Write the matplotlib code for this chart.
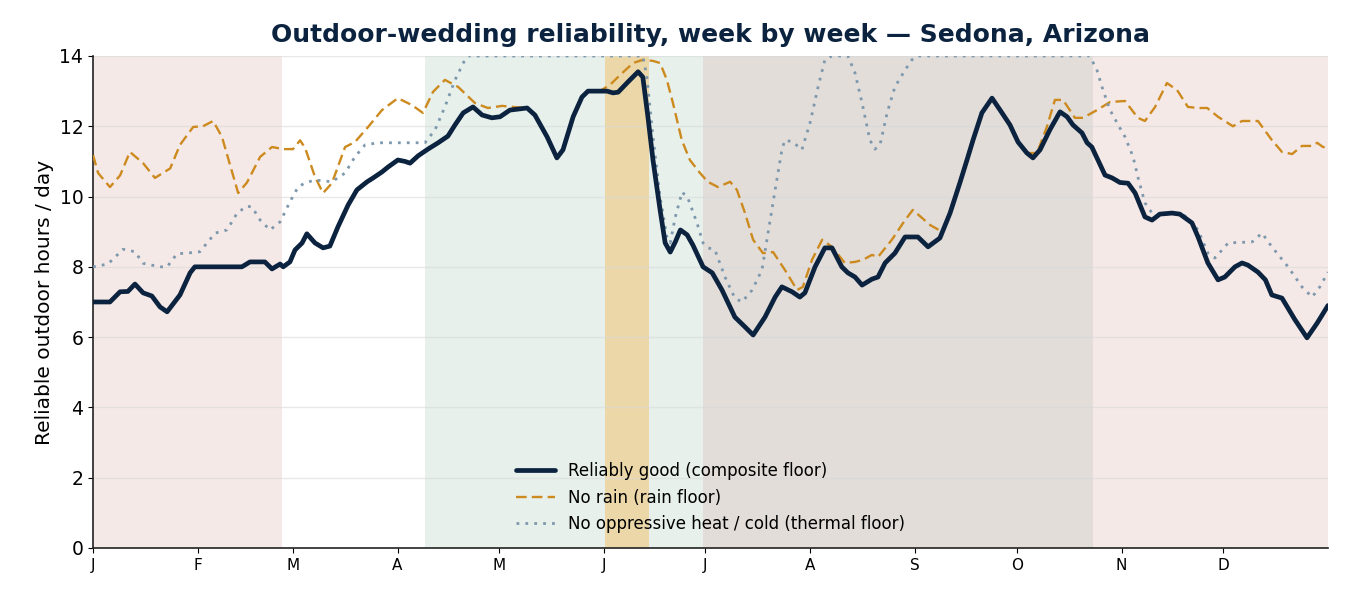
import matplotlib
matplotlib.use("Agg")
import matplotlib.pyplot as plt

# ---------------- data (day of year, hours/day) ----------------
comp_day = [0, 5.0, 8.0, 10.3, 12.4, 14.8, 17.4, 19.8, 21.9, 25.7, 28.7, 30.1, 44.0, 46.4, 50.8, 52.9,
            55.3, 56.2, 58.2, 59.7, 61.8, 63.2, 65.6, 68.0, 70.0, 72.4, 75.4, 78.0, 81.0, 82.8, 85.4,
            87.2, 90.1, 92.2, 93.7, 96.1, 99.0, 102.0, 104.9, 107.0, 109.4, 112.3, 115.0, 117.9, 120.3,
            123.2, 128.3, 130.6, 134.2, 137.1, 138.9, 141.9, 144.5, 146.3, 151.9, 153.7, 155.2, 158.1,
            161.1, 162.5, 164.0, 165.5, 167.6, 169.1, 170.6, 172.1, 173.6, 175.6, 177.3, 180.3, 183.0,
            185.9, 189.7, 192.7, 195.1, 198.6, 201.6, 203.6, 206.6, 208.9, 210.4, 213.4, 216.3, 218.4,
            221.3, 223.1, 225.2, 227.3, 230.2, 232.0, 234.1, 237.0, 240.0, 243.8, 246.8, 250.3, 253.3,
            256.2, 258.3, 260.1, 262.7, 265.7, 268.1, 271.0, 273.4, 276.0, 277.8, 279.9, 282.8, 285.8,
            287.9, 289.6, 292.3, 293.8, 295.2, 297.0, 299.1, 301.2, 303.5, 305.9, 308.0, 310.9, 313.0,
            315.3, 318.9, 321.2, 324.8, 326.6, 329.5, 332.5, 334.5, 337.5, 339.6, 341.3, 344.3, 346.5,
            348.4, 351.4, 355.2, 358.8, 361.8, 365.0]
comp_val = [7.0, 7.0, 7.29, 7.3, 7.51, 7.26, 7.17, 6.86, 6.72, 7.2, 7.83, 8.0, 8.0, 8.14, 8.14, 7.94,
            8.08, 8.0, 8.14, 8.48, 8.68, 8.94, 8.68, 8.54, 8.59, 9.14, 9.76, 10.19, 10.42, 10.53, 10.7,
            10.84, 11.04, 11.0, 10.95, 11.16, 11.35, 11.53, 11.72, 12.04, 12.38, 12.55, 12.32, 12.24, 12.27,
            12.46, 12.52, 12.32, 11.7, 11.1, 11.33, 12.27, 12.83, 13.0, 13.0, 12.95, 12.97, 13.26,
            13.55, 13.4, 12.27, 11.04, 9.62, 8.68, 8.42, 8.71, 9.05, 8.91, 8.62, 8.0, 7.83,
            7.34, 6.57, 6.29, 6.06, 6.57, 7.14, 7.43, 7.29, 7.14, 7.26, 8.0, 8.54, 8.54,
            8.0, 7.83, 7.71, 7.48, 7.65, 7.71, 8.11, 8.39, 8.85, 8.85, 8.57, 8.82, 9.53,
            10.39, 11.04, 11.61, 12.38, 12.8, 12.46, 12.04, 11.55, 11.24, 11.1, 11.33, 11.9, 12.41,
            12.27, 12.04, 11.81, 11.53, 11.41, 11.04, 10.61, 10.53, 10.4, 10.38, 10.1, 9.42, 9.33,
            9.5, 9.53, 9.5, 9.25, 8.85, 8.11, 7.63, 7.71, 8.0, 8.11, 8.05, 7.85, 7.63,
            7.2, 7.11, 6.5, 5.98, 6.4, 6.9]

rain_day = [0, 1.5, 5.0, 8.0, 10.9, 14.8, 18.3, 22.8, 25.7, 29.6, 32.5, 35.5, 38.1, 42.9, 45.5, 49.4,
            52.9, 56.2, 59.1, 61.2, 62.7, 65.6, 68.0, 70.6, 74.5, 77.4, 81.3, 85.4, 90.1, 94.3, 97.5,
            100.5, 104.0, 107.9, 112.9, 116.7, 120.9, 124.1, 128.3, 130.6, 134.2, 137.1, 138.9, 141.9,
            144.5, 146.3, 149.8, 151.3, 152.8, 155.8, 159.6, 162.5, 165.5, 167.6, 169.6, 171.4, 174.0,
            176.4, 179.4, 181.7, 184.7, 188.3, 190.3, 192.7, 195.1, 198.0, 201.0, 204.5, 208.1, 209.8,
            212.5, 215.5, 218.4, 222.2, 225.2, 227.6, 230.2, 232.0, 236.1, 240.0, 242.3, 247.4, 250.9,
            253.3, 256.2, 258.3, 260.1, 262.7, 265.7, 268.1, 271.0, 273.4, 276.0, 279.0, 281.9, 284.3,
            286.7, 290.2, 292.6, 296.7, 300.6, 305.0, 308.8, 310.9, 313.9, 317.4, 320.4, 323.6, 326.6,
            329.3, 332.5, 336.9, 339.6, 344.3, 348.4, 351.4, 354.4, 357.3, 360.3, 361.8, 363.5, 365.0]
rain_val = [11.18, 10.67, 10.27, 10.6, 11.27, 10.95, 10.53, 10.8, 11.47, 11.98, 12.0, 12.15, 11.7, 10.1,
            10.4, 11.13, 11.41, 11.35, 11.35, 11.6, 11.38, 10.56, 10.1, 10.38, 11.41, 11.55, 11.98,
            12.46, 12.8, 12.6, 12.38, 12.98, 13.32, 13.12, 12.66, 12.52, 12.58, 12.55, 12.52, 12.32,
            11.7, 11.1, 11.33, 12.27, 12.83, 13.0, 13.0, 13.09, 13.18, 13.46, 13.8, 13.89, 13.86, 13.8,
            13.32, 12.66, 11.61, 11.04, 10.67, 10.42, 10.27, 10.42, 10.19, 9.53, 8.77, 8.39, 8.42,
            7.91, 7.34, 7.43, 8.2, 8.77, 8.57, 8.11, 8.14, 8.2, 8.34, 8.28, 8.77, 9.33, 9.62, 9.19,
            9.0, 9.53, 10.39, 11.04, 11.61, 12.38, 12.8, 12.46, 12.04, 11.55, 11.24, 11.24, 11.98,
            12.75, 12.75, 12.24, 12.24, 12.46, 12.69, 12.72, 12.24, 12.15, 12.55, 13.23, 13.03, 12.55,
            12.52, 12.52, 12.27, 12.0, 12.15, 12.15, 11.61, 11.27, 11.21, 11.44, 11.44, 11.53, 11.41,
            11.4]

therm_day = [0, 4.4, 8.9, 12.4, 14.8, 19.8, 21.9, 24.8, 28.7, 31.6, 33.7, 36.1, 39.6, 42.6, 45.5, 47.0,
             49.4, 52.3, 55.3, 58.2, 60.6, 62.7, 65.6, 70.6, 74.5, 77.4, 80.4, 84.2, 98.1, 101.1, 104.0,
             107.0, 109.9, 110.8, 162.5, 163.7, 165.5, 167.6, 169.6, 170.6, 172.1, 174.1, 175.8, 178.5,
             180.3, 181.8, 183.8, 186.8, 189.7, 191.8, 194.8, 197.7, 199.5, 201.6, 203.6, 204.5, 206.9,
             209.5, 211.9, 214.3, 216.3, 218.4, 223.1, 225.2, 227.3, 229.6, 231.1, 232.6, 234.7, 237.0,
             240.0, 242.0, 243.8, 294.6, 296.7, 298.5, 300.6, 303.5, 305.0, 307.4, 308.8, 310.9, 313.0,
             315.9, 318.9, 322.7, 326.6, 329.5, 331.6, 335.5, 342.6, 345.5, 348.4, 353.2, 357.3, 360.3,
             362.6, 365.0]
therm_val = [8.0, 8.08, 8.5, 8.43, 8.1, 8.0, 8.0, 8.37, 8.4, 8.43, 8.68, 8.96, 9.05, 9.53, 9.73, 9.7,
             9.33, 9.05, 9.28, 9.85, 10.27, 10.39, 10.47, 10.42, 10.67, 11.13, 11.47, 11.53, 11.53, 11.9,
             12.55, 13.32, 13.89, 14.0, 14.0, 13.4, 11.7, 9.99, 8.85, 8.68, 9.42, 10.13, 9.96, 9.25,
             8.68, 8.54, 8.48, 7.71, 7.11, 7.0, 7.34, 7.91, 8.96, 10.19, 11.33, 11.61, 11.55,
             11.33, 12.09, 13.12, 13.89, 14.0, 14.0, 13.52, 12.66, 11.61, 11.35, 11.47, 12.38, 13.12,
             13.6, 13.89, 14.0, 14.0, 13.6, 13.03, 12.46, 11.95, 11.7, 11.13, 10.56, 9.82, 9.53,
             9.48, 9.53, 9.45, 9.05, 8.39, 8.25, 8.68, 8.71, 8.96, 8.57, 8.0, 7.43, 7.14,
             7.43, 7.85]

month_starts = [0, 31, 59, 90, 120, 151, 181, 212, 243, 273, 304, 334]
month_labels = ["J", "F", "M", "A", "M", "J", "J", "A", "S", "O", "N", "D"]

# season bands (start day, end day, colour)
band_start = [0, 295.5, 98, 180.3, 151.3]
band_end = [56, 365, 180.3, 295.5, 164.3]
band_color = ["#f5e9e7", "#f5e9e7", "#e7f0eb", "#e2ddd9", "#ecd7a9"]

NAVY = "#0c2340"
ORANGE = "#cc8a1f"
STEEL = "#7d98ad"

fig = plt.figure(figsize=(13.5, 6), dpi=100)
ax = fig.add_axes([0.0689, 0.0867, 0.9148, 0.82])

for s, e, c in zip(band_start, band_end, band_color):
    ax.axvspan(s, e, color=c, lw=0, zorder=0)

ax.set_axisbelow(True)
ax.grid(axis="y", color="#d9d9d9", alpha=0.6, lw=1.0)

ax.plot(comp_day, comp_val, color=NAVY, lw=3.4, label="Reliably good (composite floor)",
        solid_capstyle="round", solid_joinstyle="round", zorder=4)
ax.plot(rain_day, rain_val, color=ORANGE, lw=1.7, ls=(0, (4.5, 2.2)), label="No rain (rain floor)", zorder=3)
ax.plot(therm_day, therm_val, color=STEEL, lw=2.0, ls=(0, (1, 2.2)),
        label="No oppressive heat / cold (thermal floor)", zorder=3)

ax.set_xlim(0, 365)
ax.set_ylim(0, 14)
ax.set_yticks(range(0, 15, 2))
ax.tick_params(axis="y", labelsize=13.5)
ax.set_xticks(month_starts)
ax.set_xticklabels(month_labels, fontsize=11)
ax.set_ylabel("Reliable outdoor hours / day", fontsize=14.5)
for sp in ["top", "right"]:
    ax.spines[sp].set_visible(False)
for sp in ["left", "bottom"]:
    ax.spines[sp].set_color("#222222")
    ax.spines[sp].set_linewidth(1.2)

ax.set_title("Outdoor-wedding reliability, week by week \u2014 Sedona, Arizona",
             fontsize=18, fontweight="bold", color=NAVY, pad=10)

ax.legend(loc="lower center", frameon=False, fontsize=12, handlelength=2.3,
          bbox_to_anchor=(0.5, 0.0))

fig.savefig("out.png", dpi=100)
